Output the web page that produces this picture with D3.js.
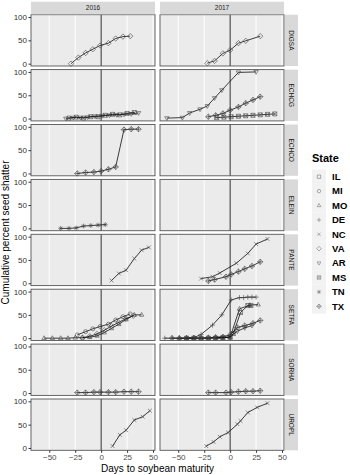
<!DOCTYPE html>
<html>
<head>
<meta charset="utf-8">
<script src="https://cdn.jsdelivr.net/npm/d3@7"></script>
<style>
  body { margin: 0; background: #fff; }
  svg { font-family: "Liberation Sans", Arial, sans-serif; }
</style>
</head>
<body>
<script>
// --- Data ---
const years = ["2016", "2017"];
const species = ["DIGSA", "ECHCG", "ECHCO", "ELEIN", "PANTE", "SETFA", "SORHA", "UROPL"];
const states = ["IL", "MI", "MO", "DE", "NC", "VA", "AR", "MS", "TN", "TX"];
const xTicks = [-50, -25, 0, 25, 50];
const yTicks = [0, 50, 100];

const digsa2016 = [
    { state: "VA", days: [-29, -22, -15, -8, -1, 7, 14, 21, 28], shatter: [0, 13, 23, 31, 39, 44, 54, 58, 59] }
];
const digsa2017 = [
    { state: "VA", days: [-22, -15, -7, 0, 8, 15, 29], shatter: [1, 6, 22, 29, 44, 49, 59] }
];
const echcg2016 = [
    { state: "AR", days: [-34, -27, -20, -13, -6, 1, 8, 15, 22, 29, 36], shatter: [0, 2, 2, 3, 5, 6, 7, 8, 9, 10, 12] },
    { state: "MS", days: [-31, -24, -17, -10, -3, 4, 11, 18, 25, 32], shatter: [1, 3, 1, 4, 4, 7, 9, 8, 11, 13] }
];
const echcg2017 = [
    { state: "AR", days: [-61, -46, -39, -29, -22, -15, -8, 8, 25], shatter: [1, 2, 12, 20, 27, 44, 61, 99, 100] },
    { state: "TX", days: [-21, -14, -7, 0, 8, 15, 22, 29], shatter: [4, 7, 11, 18, 25, 33, 40, 47] },
    { state: "MS", days: [-13, -6, 1, 8, 15, 22, 29, 36, 43], shatter: [2, 3, 4, 5, 6, 7, 8, 9, 10] }
];
const echco2016 = [
    { state: "TX", days: [-23, -15, -7, 0, 7, 14, 22, 29, 36], shatter: [0, 2, 3, 5, 9, 14, 94, 95, 95] }
];
const echco2017 = [];
const elein2016 = [
    { state: "TN", days: [-39, -31, -24, -17, -10, -3, 4], shatter: [0, 0, 1, 5, 6, 7, 8] }
];
const elein2017 = [];
const pante2016 = [
    { state: "NC", days: [10, 17, 24, 32, 39, 46], shatter: [6, 21, 28, 53, 71, 77] }
];
const pante2017 = [
    { state: "NC", days: [-28, -17, -10, 6, 17, 25, 36], shatter: [10, 14, 22, 43, 64, 84, 95] },
    { state: "TX", days: [-21, -15, -4, 1, 8, 14, 21, 29], shatter: [5, 8, 14, 19, 25, 31, 37, 46] }
];
const setfa2016 = [
    { state: "MO", days: [-55, -47, -39, -32, -25, -18, -11, -4, 3, 10, 17, 24, 32, 39], shatter: [0, 0, 0, 0, 1, 1, 2, 5, 12, 21, 30, 40, 50, 50] },
    { state: "MI", days: [-23, -15, -8, -1, 7, 14, 21, 28], shatter: [7, 14, 20, 25, 30, 39, 46, 52] },
    { state: "VA", days: [-18, -11, -4, 3, 10, 17, 24, 31], shatter: [1, 4, 9, 17, 26, 34, 42, 48] }
];
const setfa2017 = [
    { state: "DE", days: [-63, -56, -49, -42, -35, -28, -17, -8, 1, 9, 13, 17, 21, 25], shatter: [0, 0, 0, 0, 1, 8, 28, 50, 82, 87, 87, 88, 88, 88] },
    { state: "MO", days: [-49, -42, -35, -28, -21, -14, -7, 0, 9, 19, 27], shatter: [0, 0, 0, 0, 0, 1, 1, 2, 63, 71, 72] },
    { state: "MS", days: [-42, -35, -28, -21, -14, -7, 0, 3, 10, 17, 20], shatter: [0, 0, 0, 0, 0, 1, 2, 10, 55, 70, 70] },
    { state: "TX", days: [-56, -49, -42, -35, -28, -21, -14, -7, 0, 7, 14, 22, 29], shatter: [0, 0, 0, 0, 0, 1, 2, 3, 7, 23, 27, 32, 38] },
    { state: "AR", days: [-14, -7, 0, 7, 14, 21], shatter: [0, 1, 3, 15, 22, 27] }
];
const sorha2016 = [
    { state: "TX", days: [-23, -15, -7, -1, 7, 14, 22, 29, 36], shatter: [1, 1, 2, 2, 2, 2, 3, 3, 3] }
];
const sorha2017 = [
    { state: "TX", days: [-21, -14, -4, 1, 8, 15, 22, 29], shatter: [1, 1, 1, 2, 3, 4, 4, 5] }
];
const uropl2016 = [
    { state: "NC", days: [11, 18, 24, 32, 40, 47], shatter: [4, 28, 38, 60, 67, 80] }
];
const uropl2017 = [
    { state: "NC", days: [-23, -16, -10, -2, 7, 10, 17, 26, 36], shatter: [4, 13, 24, 33, 51, 58, 76, 87, 96] }
];

const panelData = {
    DIGSA: [digsa2016, digsa2017],
    ECHCG: [echcg2016, echcg2017],
    ECHCO: [echco2016, echco2017],
    ELEIN: [elein2016, elein2017],
    PANTE: [pante2016, pante2017],
    SETFA: [setfa2016, setfa2017],
    SORHA: [sorha2016, sorha2017],
    UROPL: [uropl2016, uropl2017]
};

// --- Layout ---
const W = 350, H = 475;
const panelLeft = [31, 160];
const panelW = 124;
const panelTop = 14.7, panelH = 51.3, panelGap = 3.6;
const stripH = 12.6;

const svg = d3.select("body").append("svg")
    .attr("width", W)
    .attr("height", H);

// Scales
const xScale = d3.scaleLinear().domain([-67.6, 51.9]).range([0, panelW]);
const yScale = d3.scaleLinear().domain([-5, 105]).range([panelH, 0]);

// ggplot shapes 0-9 as paths
function shapePath(k, r) {
    const p = d3.path();
    const sq = () => { p.rect(-r, -r, 2 * r, 2 * r); };
    const plus = (s) => { p.moveTo(-s, 0); p.lineTo(s, 0); p.moveTo(0, -s); p.lineTo(0, s); };
    const cross = (s) => { p.moveTo(-s, -s); p.lineTo(s, s); p.moveTo(-s, s); p.lineTo(s, -s); };
    const diamond = (s) => { p.moveTo(0, -s); p.lineTo(s, 0); p.lineTo(0, s); p.lineTo(-s, 0); p.closePath(); };
    switch (k) {
        case 0: sq(); break;
        case 1: p.arc(0, 0, r, 0, 2 * Math.PI); p.closePath(); break;
        case 2: p.moveTo(0, -r * 1.2); p.lineTo(r * 1.1, r * 0.7); p.lineTo(-r * 1.1, r * 0.7); p.closePath(); break;
        case 3: plus(r * 1.25); break;
        case 4: cross(r * 0.95); break;
        case 5: diamond(r * 1.35); break;
        case 6: p.moveTo(0, r * 1.2); p.lineTo(r * 1.1, -r * 0.7); p.lineTo(-r * 1.1, -r * 0.7); p.closePath(); break;
        case 7: sq(); cross(r); break;
        case 8: plus(r * 1.2); cross(r * 0.85); break;
        case 9: diamond(r * 1.35); plus(r * 1.35); break;
    }
    return p.toString();
}

const line = d3.line()
    .x(d => xScale(d[0]))
    .y(d => yScale(d[1]));

species.forEach((sp, row) => {
    const top = panelTop + row * (panelH + panelGap);

    years.forEach((yr, col) => {
        const g = svg.append("g")
            .attr("transform", `translate(${panelLeft[col]}, ${top})`);

        g.append("rect")
            .attr("width", panelW)
            .attr("height", panelH)
            .attr("fill", "#ebebeb");

        // vertical gridlines
        g.selectAll(".grid")
            .data(xTicks.filter(t => t !== 0))
            .enter().append("line")
            .attr("x1", d => xScale(d)).attr("x2", d => xScale(d))
            .attr("y1", 0).attr("y2", panelH)
            .attr("stroke", "#fff")
            .attr("stroke-width", 1);

        // maturity line
        g.append("line")
            .attr("x1", xScale(0)).attr("x2", xScale(0))
            .attr("y1", 0).attr("y2", panelH)
            .attr("stroke", "#333")
            .attr("stroke-width", 1);

        panelData[sp][col].forEach(s => {
            const pts = s.days.map((d, i) => [d, s.shatter[i]]);
            g.append("path")
                .datum(pts)
                .attr("d", line)
                .attr("fill", "none")
                .attr("stroke", "#000")
                .attr("stroke-width", 0.75);
            g.selectAll(null)
                .data(pts)
                .enter().append("path")
                .attr("transform", d => `translate(${xScale(d[0])}, ${yScale(d[1])})`)
                .attr("d", shapePath(states.indexOf(s.state), 2))
                .attr("fill", "none")
                .attr("stroke", "#444")
                .attr("stroke-width", 0.6);
        });

        g.append("rect")
            .attr("width", panelW)
            .attr("height", panelH)
            .attr("fill", "none")
            .attr("stroke", "#555")
            .attr("stroke-width", 0.9);

        // y axis on left column
        if (col === 0) {
            const ya = g.append("g")
                .call(d3.axisLeft(yScale).tickValues(yTicks).tickSize(2.5).tickPadding(1.5));
            ya.select(".domain").remove();
            ya.selectAll("line").attr("stroke", "#333");
            ya.selectAll("text").attr("fill", "#333").style("font-size", "8px");
        }

        // x axis on last row
        if (row === species.length - 1) {
            const xa = g.append("g")
                .attr("transform", `translate(0, ${panelH})`)
                .call(d3.axisBottom(xScale).tickValues(xTicks).tickSize(2.5).tickPadding(1.5));
            xa.select(".domain").remove();
            xa.selectAll("line").attr("stroke", "#333");
            xa.selectAll("text").attr("fill", "#4d4d4d").style("font-size", "8px");
        }

        // top strips
        if (row === 0) {
            svg.append("rect")
                .attr("x", panelLeft[col]).attr("y", panelTop - stripH - 0.4)
                .attr("width", panelW).attr("height", stripH)
                .attr("fill", "#d9d9d9");
            svg.append("text")
                .attr("x", panelLeft[col] + panelW / 2)
                .attr("y", panelTop - stripH / 2 - 0.4)
                .attr("dy", "0.35em")
                .attr("text-anchor", "middle")
                .attr("fill", "#1a1a1a")
                .style("font-size", "6.5px")
                .text(yr);
        }
    });

    // right strips
    const sx = panelLeft[1] + panelW + 1;
    svg.append("rect")
        .attr("x", sx).attr("y", top)
        .attr("width", 13).attr("height", panelH)
        .attr("fill", "#d9d9d9");
    svg.append("text")
        .attr("transform", `translate(${sx + 6.5}, ${top + panelH / 2}) rotate(90)`)
        .attr("dy", "0.35em")
        .attr("text-anchor", "middle")
        .attr("fill", "#1a1a1a")
        .style("font-size", "6.5px")
        .text(sp);
});

// Axis titles
svg.append("text")
    .attr("x", (panelLeft[0] + panelLeft[1] + panelW) / 2)
    .attr("y", 472)
    .attr("text-anchor", "middle")
    .style("font-size", "10px")
    .text("Days to soybean maturity");

svg.append("text")
    .attr("transform", `translate(9, ${panelTop + (8 * panelH + 7 * panelGap) / 2}) rotate(-90)`)
    .attr("text-anchor", "middle")
    .style("font-size", "10px")
    .text("Cumulative percent seed shatter");

// Legend
const legend = svg.append("g")
    .attr("transform", "translate(312, 0)");

legend.append("text")
    .attr("x", 0)
    .attr("y", 162)
    .style("font-size", "11px")
    .style("font-weight", "bold")
    .text("State");

const keySize = 14.4;
const entries = legend.selectAll(".legend-entry")
    .data(states)
    .enter().append("g")
    .attr("class", "legend-entry")
    .attr("transform", (d, i) => `translate(0, ${169.5 + i * keySize})`);

entries.append("rect")
    .attr("width", 14)
    .attr("height", keySize)
    .attr("fill", "#f2f2f2");

entries.append("path")
    .attr("transform", `translate(7, ${keySize / 2})`)
    .attr("d", (d, i) => shapePath(i, 1.7))
    .attr("fill", "none")
    .attr("stroke", "#777")
    .attr("stroke-width", 0.6);

entries.append("text")
    .attr("x", 20)
    .attr("y", keySize / 2)
    .attr("dy", "0.35em")
    .style("font-size", "9.5px")
    .style("font-weight", "bold")
    .text(d => d);
</script>
</body>
</html>
